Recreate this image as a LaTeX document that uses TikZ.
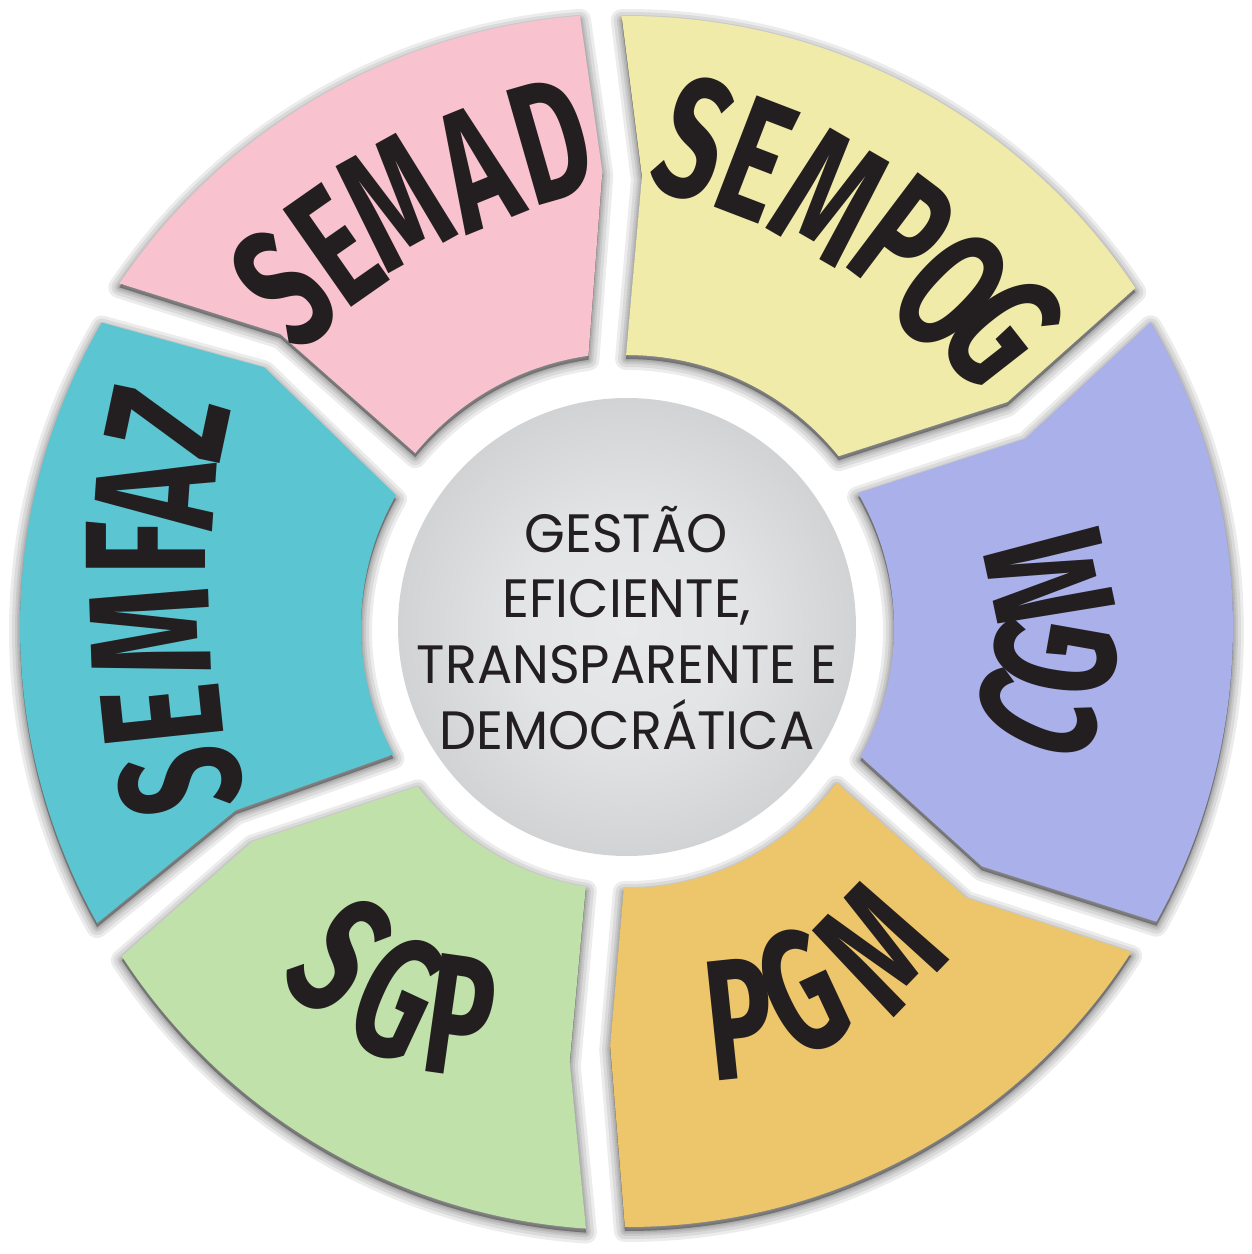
\documentclass[tikz,border=0pt]{standalone}
\usepackage{fontspec}
\newfontfamily\labfont{Fira Sans}[FakeStretch=0.65]
\newfontfamily\ctrfont{Poppins}[FakeStretch=0.97]
\definecolor{cpink}{HTML}{F9C2CF}
\definecolor{cyellow}{HTML}{F1EBAA}
\definecolor{cpurple}{HTML}{AAB0EA}
\definecolor{corange}{HTML}{EDC66C}
\definecolor{cgreen}{HTML}{C0E1AA}
\definecolor{cteal}{HTML}{5CC5D2}
\definecolor{ink}{HTML}{231F20}
\definecolor{sphA}{HTML}{E8E9EA}
\definecolor{sphB}{HTML}{E3E4E5}
\definecolor{sphC}{HTML}{CBCCCE}
\definecolor{sphD}{HTML}{B0B2B5}
\definecolor{sphE}{HTML}{A2A4A7}
\pgfdeclareradialshading{sphere}{\pgfpoint{0bp}{0bp}}{color(0bp)=(sphA); color(12bp)=(sphB); color(30bp)=(sphC); color(44bp)=(sphD); color(50bp)=(sphE); color(100bp)=(sphE)}
\newcommand\PathSemad{(145.9:613) arc[start angle=145.9,end angle=94.4,radius=613] -- (93.1:456) -- (98.1:274) arc[start angle=98.1,end angle=140.6,radius=274] -- (139.8:454) -- cycle}
\newcommand\PathSempog{(90.5:611) arc[start angle=90.5,end angle=33.7,radius=611] -- (30.6:442) -- (38.9:272) arc[start angle=38.9,end angle=90.2,radius=272] -- (88.1:451) -- cycle}
\newcommand\PathCgm{(30.2:606) arc[start angle=30.2,end angle=-29.1,radius=606] -- (-34.0:428) -- (-29.0:267) arc[start angle=-29.0,end angle=30.1,radius=267] -- (25.3:441) -- cycle}
\newcommand\PathPgm{(-32.8:600) arc[start angle=-32.8,end angle=-90.2,radius=600] -- (-92.3:419) -- (-90.7:261) arc[start angle=-90.7,end angle=-36.6,radius=261] -- (-38.6:434) -- cycle}
\newcommand\PathSgp{(213.1:603) arc[start angle=213.1,end angle=266.1,radius=603] -- (262.5:439) -- (261.0:263) arc[start angle=261.0,end angle=217.3,radius=263] -- (209.8:432) -- cycle}
\newcommand\PathSemfaz{(149.9:607) arc[start angle=149.9,end angle=209.2,radius=607] -- (205.1:432) -- (208.6:266) arc[start angle=208.6,end angle=150.3,radius=266] -- (144.4:446) -- cycle}
\newcommand\SoftShadow[1]{\foreach \w in {11,8,5,3,1.5}{\path[segshadow, line width=\w pt] #1;}}
\tikzset{
  segshadow/.style={draw=black, fill=black, line join=round, opacity=0.075, yshift=-2pt},
  lab/.style={font=\labfont\bfseries\fontsize{86}{86}\selectfont, text=ink, inner sep=0pt},
  ctr/.style={font=\ctrfont\fontsize{27}{27}\selectfont, text=ink, inner sep=0pt, anchor=base}
}
\begin{document}
\begin{tikzpicture}[x=0.5pt,y=0.5pt]
\useasboundingbox[fill=white] (-627,-627) rectangle (625,627);
% shadows
\SoftShadow{\PathSemad}
\SoftShadow{\PathSempog}
\SoftShadow{\PathCgm}
\SoftShadow{\PathPgm}
\SoftShadow{\PathSgp}
\SoftShadow{\PathSemfaz}
% segments
\fill[cpink] \PathSemad;
\fill[cyellow] \PathSempog;
\fill[cpurple] \PathCgm;
\fill[corange] \PathPgm;
\fill[cgreen] \PathSgp;
\fill[cteal] \PathSemfaz;
% hub
\node[circle, minimum size=229pt, inner sep=0pt, shading=sphere] (hub) at (0,0) {};
\node[ctr] (l1) at (-1,75) {GESTÃO};
\node[ctr] (l2) at (0,10) {EFICIENTE,};
\node[ctr] (l3) at (0,-56) {TRANSPARENTE E};
\node[ctr] (l4) at (0,-122) {DEMOCRÁTICA};
% SEMAD
\node[lab, rotate=40] (a1) at (-343,339) {S};
\node[lab, rotate=35] (a2) at (-292,381) {E};
\node[lab, rotate=29] (a3) at (-232,425) {M};
\node[lab, rotate=22] (a4) at (-151,459) {A};
\node[lab, rotate=16] (a5) at (-76,487) {D};
% SEMPOG
\node[lab, rotate=-18] (b1) at (67,488) {S};
\node[lab, rotate=-21] (b2) at (129,468) {E};
\node[lab, rotate=-30] (b3) at (203,430) {M};
\node[lab, rotate=-37] (b4) at (276,391) {P};
\node[lab, rotate=-44] (b5) at (325,337) {O};
\node[lab, rotate=-52] (b6) at (376,297) {G};
% CGM
\node[lab, rotate=65] (c1) at (409,-89) {C};
\node[lab, rotate=80] (c2) at (428,-30) {G};
\node[lab, rotate=102] (c3) at (422,49) {M};
% PGM
\node[lab, rotate=6] (d1) at (113,-392) {P};
\node[lab, rotate=25] (d2) at (175,-364) {G};
\node[lab, rotate=46] (d3) at (252,-320) {M};
% SGP
\node[lab, rotate=-40] (e1) at (-287,-328) {S};
\node[lab, rotate=-25] (e2) at (-230,-371) {G};
\node[lab, rotate=-8] (e3) at (-167,-389) {P};
% SEMFAZ
\node[lab, rotate=100] (f1) at (-447,-154) {S};
\node[lab, rotate=96] (f2) at (-465,-88) {E};
\node[lab, rotate=92] (f3) at (-477,-5) {M};
\node[lab, rotate=90] (f4) at (-481,79) {F};
\node[lab, rotate=86] (f5) at (-472,134) {A};
\node[lab, rotate=78] (f6) at (-459,204) {Z};
\end{tikzpicture}
\end{document}
